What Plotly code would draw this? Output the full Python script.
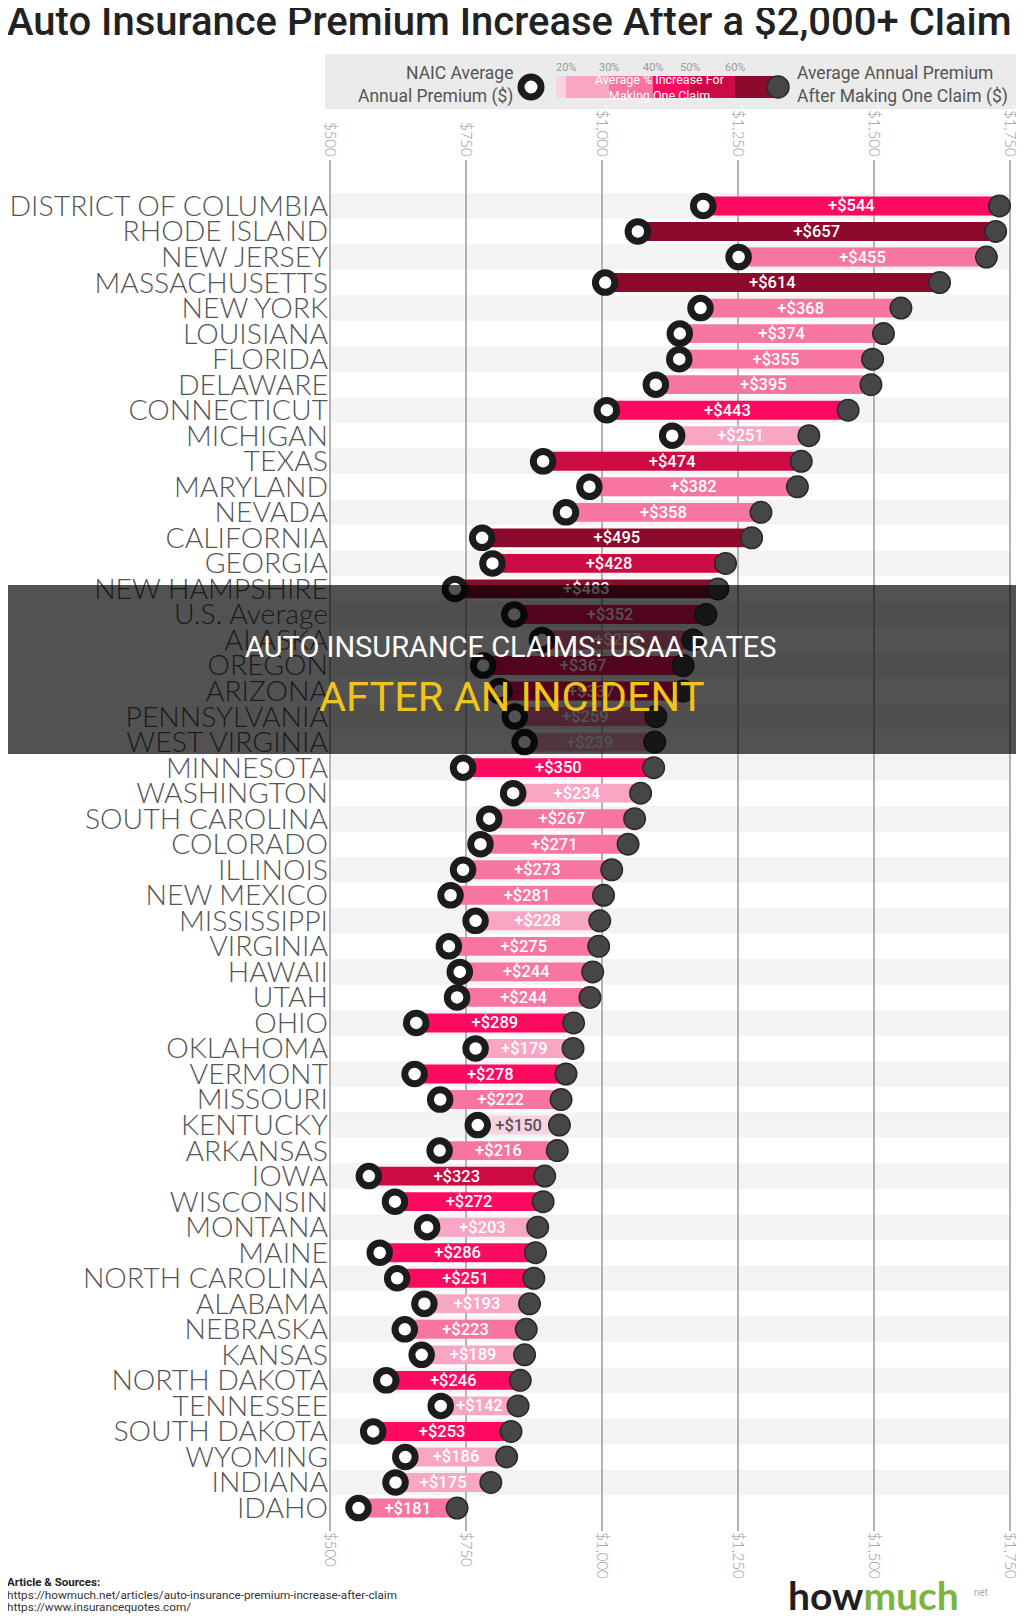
import plotly.graph_objects as go

# ---------------- data ----------------
states = ["DISTRICT OF COLUMBIA", "RHODE ISLAND", "NEW JERSEY", "MASSACHUSETTS", "NEW YORK",
          "LOUISIANA", "FLORIDA", "DELAWARE", "CONNECTICUT", "MICHIGAN", "TEXAS", "MARYLAND",
          "NEVADA", "CALIFORNIA", "GEORGIA", "NEW HAMPSHIRE", "U.S. Average", "ALASKA", "OREGON",
          "ARIZONA", "PENNSYLVANIA", "WEST VIRGINIA", "MINNESOTA", "WASHINGTON", "SOUTH CAROLINA",
          "COLORADO", "ILLINOIS", "NEW MEXICO", "MISSISSIPPI", "VIRGINIA", "HAWAII", "UTAH", "OHIO",
          "OKLAHOMA", "VERMONT", "MISSOURI", "KENTUCKY", "ARKANSAS", "IOWA", "WISCONSIN", "MONTANA",
          "MAINE", "NORTH CAROLINA", "ALABAMA", "NEBRASKA", "KANSAS", "NORTH DAKOTA", "TENNESSEE",
          "SOUTH DAKOTA", "WYOMING", "INDIANA", "IDAHO"]
naic_premium = [1186, 1066, 1251, 1006, 1181, 1143, 1142, 1099, 1009, 1129, 892, 977,
                934, 780, 799, 730, 839, 890, 782, 812, 840, 858, 745, 837, 793,
                777, 745, 722, 768, 719, 739, 734, 659, 768, 656, 703, 772, 702, 572, 620, 679,
                592, 624, 674, 638, 669, 604, 704, 580, 639, 621, 553]
increase = [544, 657, 455, 614, 368, 374, 355, 395, 443, 251, 474, 382,
            358, 495, 428, 483, 352, 277, 367, 337, 259, 239, 350, 234, 267,
            271, 273, 281, 228, 275, 244, 244, 289, 179, 278, 222, 150, 216, 323, 272, 203,
            286, 251, 193, 223, 189, 246, 142, 253, 186, 175, 181]
after_premium = [n + d for n, d in zip(naic_premium, increase)]

tick_values = [500, 750, 1000, 1250, 1500, 1750]
tick_labels = ["$500", "$750", "$1,000", "$1,250", "$1,500", "$1,750"]

pct_edges = [20, 30, 40, 50, 60]
pct_labels = ["20%", "30%", "40%", "50%", "60%"]
bin_colors = ["#f9d3e1", "#f8a6c3", "#f7759f", "#ff0a61", "#cc0a43", "#8c0a2b"]

# ---------------- helpers ----------------
def bin_of(p):
    k = 0
    for e in pct_edges:
        if p >= e:
            k += 1
    return k

pcts = [100.0 * d / n for n, d in zip(naic_premium, increase)]
bar_colors = [bin_colors[bin_of(p)] for p in pcts]
text_colors = ["#555555" if bin_of(p) == 0 else "#ffffff" for p in pcts]
bar_text = ["+$%d" % d for d in increase]

# page geometry (the page body has an 8px margin; figure placed at page x=8, y=8)
OFF = 8
W, H = 1024 - OFF, 1622 - 2 * OFF
L, R, T, B = 328, 1012, 160, 1531   # plot area in page pixels


def px(x):
    return (x - L) / (R - L)


def py(y):
    return (B - y) / (B - T)


fig = go.Figure()

fig.add_trace(go.Bar(
    y=states, x=increase, base=naic_premium, orientation="h",
    marker=dict(color=bar_colors, line=dict(width=0)), width=0.74,
    text=bar_text, textposition="inside", insidetextanchor="middle", textangle=0,
    constraintext="none",
    textfont=dict(color=text_colors, size=16.5, family="Roboto", weight=500),
    hoverinfo="skip", cliponaxis=False,
))
fig.add_trace(go.Scatter(
    y=states, x=after_premium, mode="markers",
    marker=dict(size=21.5, color="#464646", line=dict(color="#2a2a2a", width=1.5)),
    hoverinfo="skip", cliponaxis=False,
))
fig.add_trace(go.Scatter(
    y=states, x=naic_premium, mode="markers",
    marker=dict(size=19.5, color="#ffffff", line=dict(color="#1c1c1c", width=7)),
    hoverinfo="skip", cliponaxis=False,
))
# invisible trace to carry the top axis
fig.add_trace(go.Scatter(
    y=states, x=naic_premium, xaxis="x2", mode="markers",
    marker=dict(opacity=0), hoverinfo="skip", showlegend=False,
))

shapes = []
# alternating row stripes
for i, s in enumerate(states):
    if i % 2 == 0:
        shapes.append(dict(type="rect", xref="x", yref="y", x0=500, x1=1750,
                           y0=i - 0.5, y1=i + 0.5, fillcolor="#f3f3f3",
                           line=dict(width=0), layer="below"))

# legend box
shapes.append(dict(type="rect", xref="paper", yref="paper", x0=px(325), x1=px(1019),
                   y0=py(109), y1=py(54), fillcolor="#ebebeb", line=dict(width=0), layer="above"))
seg_px = [556, 566, 609, 653, 690, 735, 778]
for k, c in enumerate(bin_colors):
    shapes.append(dict(type="rect", xref="paper", yref="paper", x0=px(seg_px[k]), x1=px(seg_px[k + 1]),
                       y0=py(98), y1=py(76), fillcolor=c, line=dict(width=0), layer="above"))
shapes.append(dict(type="circle", xref="paper", yref="paper", xsizemode="pixel", ysizemode="pixel",
                   xanchor=px(778), yanchor=py(87), x0=-11, x1=11, y0=-11, y1=11,
                   fillcolor="#464646", line=dict(color="#2a2a2a", width=1.5), layer="above"))
shapes.append(dict(type="circle", xref="paper", yref="paper", xsizemode="pixel", ysizemode="pixel",
                   xanchor=px(531), yanchor=py(87), x0=-10, x1=10, y0=-10, y1=10,
                   fillcolor="#ffffff", line=dict(color="#1c1c1c", width=7), layer="above"))

# dark overlay band
shapes.append(dict(type="rect", xref="paper", yref="paper", x0=px(-20), x1=px(1045),
                   y0=py(754), y1=py(585), fillcolor="rgba(0,0,0,0.68)",
                   line=dict(width=0), layer="above"))

ann = []
ann.append(dict(text="Auto Insurance Premium Increase After a $2,000+ Claim",
                x=px(5), y=py(22), xref="paper", yref="paper", xanchor="left", yanchor="middle",
                showarrow=False, font=dict(family="Roboto", size=40, color="#222222", weight=500)))
ann.append(dict(text="NAIC Average<br>Annual Premium ($)", x=px(515), y=py(85), xref="paper", yref="paper",
                xanchor="right", yanchor="middle", align="right", showarrow=False,
                font=dict(family="Roboto", size=17.5, color="#555555")))
ann.append(dict(text="Average Annual Premium<br>After Making One Claim ($)", x=px(795), y=py(85),
                xref="paper", yref="paper", xanchor="left", yanchor="middle", align="left",
                showarrow=False, font=dict(family="Roboto", size=17.5, color="#555555")))
for k, lab in enumerate(pct_labels):
    ann.append(dict(text=lab, x=px(seg_px[k + 1]), y=py(68), xref="paper", yref="paper",
                    xanchor="center", yanchor="middle", showarrow=False,
                    font=dict(family="Roboto", size=11, color="#9a9a9a")))
ann.append(dict(text="Average % Increase For<br>Making One Claim", x=px(660), y=py(87), xref="paper",
                yref="paper", xanchor="center", yanchor="middle", align="center", showarrow=False,
                font=dict(family="Roboto", size=12.5, color="#ffffff")))
# overlay texts
ann.append(dict(text="AUTO INSURANCE CLAIMS: USAA RATES", x=px(511), y=py(647), xref="paper", yref="paper",
                xanchor="center", yanchor="middle", showarrow=False,
                font=dict(family="Roboto", size=29, color="#ffffff")))
ann.append(dict(text="AFTER AN INCIDENT", x=px(511), y=py(696), xref="paper", yref="paper",
                xanchor="center", yanchor="middle", showarrow=False,
                font=dict(family="Roboto", size=41.5, color="#f2c417")))
# footer
ann.append(dict(text="<b>Article & Sources:</b>", x=px(5), y=py(1582), xref="paper", yref="paper",
                xanchor="left", yanchor="middle", showarrow=False,
                font=dict(family="Roboto", size=11.5, color="#222222")))
ann.append(dict(text="https://howmuch.net/articles/auto-insurance-premium-increase-after-claim",
                x=px(5), y=py(1595), xref="paper", yref="paper", xanchor="left", yanchor="middle",
                showarrow=False, font=dict(family="Roboto", size=11.7, color="#333333")))
ann.append(dict(text="https://www.insurancequotes.com/", x=px(5), y=py(1607), xref="paper", yref="paper",
                xanchor="left", yanchor="middle", showarrow=False,
                font=dict(family="Roboto", size=11.7, color="#333333")))
ann.append(dict(text="<b>how<span style='color:#7cb342'>much</span></b>", x=px(786), y=py(1595),
                xref="paper", yref="paper", xanchor="left", yanchor="middle", showarrow=False,
                font=dict(family="Lato", size=39, color="#1f1f1f")))
ann.append(dict(text="net", x=px(972), y=py(1592), xref="paper", yref="paper",
                xanchor="left", yanchor="middle", showarrow=False,
                font=dict(family="Roboto", size=10, color="#aaaaaa")))

axis_font = dict(family="Lato", size=15, color="#9a9a9a", weight=300)
fig.update_layout(
    width=W, height=H,
    margin=dict(l=L - OFF, r=(W + OFF) - R, t=T - OFF, b=(H + OFF) - B, pad=0, autoexpand=False),
    paper_bgcolor="#ffffff", plot_bgcolor="#ffffff",
    showlegend=False, bargap=0.26,
    shapes=shapes, annotations=ann,
    xaxis=dict(range=[497, 1753], tickvals=tick_values, ticktext=tick_labels, tickangle=90,
               showgrid=True, gridcolor="#b3b3b3", gridwidth=2, zeroline=False, showline=False,
               ticks="", tickfont=axis_font, fixedrange=True, ticklabeloverflow="allow",
               automargin=False),
    xaxis2=dict(range=[497, 1753], overlaying="x", side="top", tickvals=tick_values,
                ticktext=tick_labels, tickangle=90, showgrid=False, zeroline=False,
                showline=False, ticks="", tickfont=axis_font, ticklabeloverflow="allow",
                automargin=False),
    yaxis=dict(categoryorder="array", categoryarray=states, range=[51.9, -1.8],
               tickmode="array", tickvals=states, ticktext=states,
               showgrid=False, zeroline=False, showline=False, ticks="",
               tickfont=dict(family="Lato", size=28.4, color="#555555", weight=300),
               ticklabelstandoff=-1, automargin=False),
)

fig.write_html("out.html", config={"staticPlot": True, "displayModeBar": False})
